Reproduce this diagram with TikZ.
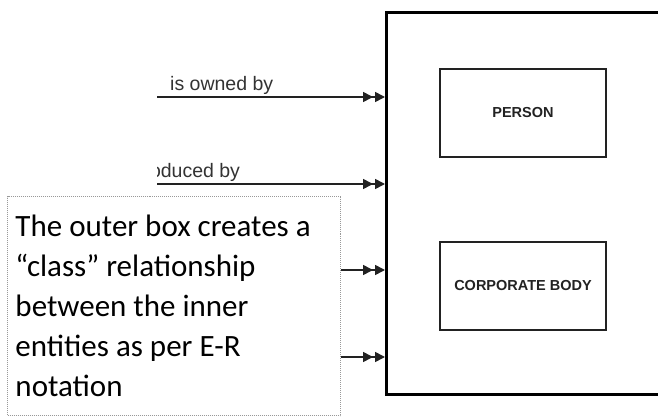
\documentclass[tikz,border=0pt]{standalone}
\usepackage{fontspec}
\setmainfont{Carlito}
\newfontfamily\erfont{Liberation Sans}
\usetikzlibrary{arrows.meta}
\definecolor{erline}{HTML}{222222}
\begin{document}
\begin{tikzpicture}[x=1pt,y=-1pt,
    entity/.style={draw=erline, line width=2pt, minimum width=166pt, minimum height=88pt,
      font=\erfont\bfseries\fontsize{14.5}{16}\selectfont, text=erline},
    rel/.style={draw=erline, line width=1.6pt,
      -{Triangle[length=10pt,width=10pt,sep=2pt]Triangle[length=10pt,width=10pt]}},
    rellabel/.style={anchor=base west, inner sep=0pt, font=\erfont\fontsize{19.5}{21}\selectfont, text=black!80}]
    \useasboundingbox (0,0) rectangle (658,417);

    \node[draw, line width=3pt, minimum width=300pt, minimum height=382pt, anchor=north west] (ErCls) at (385,11) {};
    \node[entity] (ErPer) at (523,113) {PERSON};
    \node[entity] (ErCorp) at (523,286) {CORPORATE BODY};

    \node[draw=black!40, line width=1pt, dash pattern=on 1pt off 1pt, anchor=north west,
      text width=317pt, inner xsep=8pt, minimum height=219pt, align=flush left,
      font=\fontsize{31}{40}\selectfont] (ErNote) at (7,196)
      {The outer box creates a\\``class'' relationship\\between the inner\\entities as per E-R\\notation};

    \coordinate (ErOwn) at (157,97);
    \coordinate (ErProd) at (157,184);
    \coordinate (ErRelC) at (0,270);
    \coordinate (ErRelD) at (0,357);

    \node[rellabel] (ErOwnLbl) at (170,91) {is owned by};
    \begin{scope}
      \clip (157,150) rectangle (300,190);
      \node[rellabel] (ErProdLbl) at (132.5,177) {produced by};
    \end{scope}

    \draw[rel] (ErOwn) -- (ErCls.west |- ErOwn);
    \draw[rel] (ErProd) -- (ErCls.west |- ErProd);
    \draw[rel] (ErNote.east |- ErRelC) -- (ErCls.west |- ErRelC);
    \draw[rel] (ErNote.east |- ErRelD) -- (ErCls.west |- ErRelD);
  \end{tikzpicture}
\end{document}
